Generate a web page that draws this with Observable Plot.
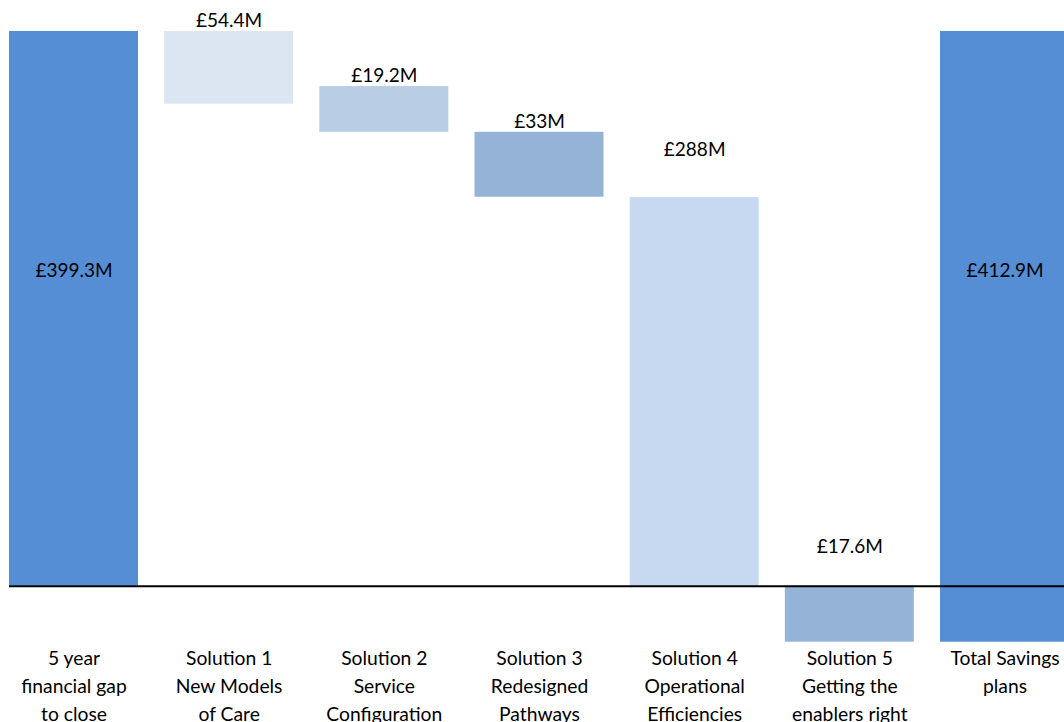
<!DOCTYPE html>
<html><head><meta charset="utf-8">
<script src="https://cdn.jsdelivr.net/npm/d3@7"></script>
<script src="https://cdn.jsdelivr.net/npm/@observablehq/plot@0.6"></script>
<style>html,body{margin:0;padding:0;background:#fff;overflow:hidden;}</style>
</head><body><div id="chart"></div>
<script>
const categories = ["gap","s1","s2","s3","s4","s5","total"];
const categoryLabels = [
  "5 year\nfinancial gap\nto close",
  "Solution 1\nNew Models\nof Care",
  "Solution 2\nService\nConfiguration",
  "Solution 3\nRedesigned\nPathways",
  "Solution 4\nOperational\nEfficiencies",
  "Solution 5\nGetting the\nenablers right",
  "Total Savings\nplans"
];
const barStart = [0, 400, 360.3, 327.3, 280.2, 0, -40.4];
const barEnd   = [400, 347.5, 327.3, 280.5, 0, -40.4, 400];
const valueLabels = ["£399.3M","£54.4M","£19.2M","£33M","£288M","£17.6M","£412.9M"];
const labelAt = [227.6, 407.4, 368.2, 335, 314.8, 28.6, 227.6];
const barColors = ["#558ED5","#DCE6F2","#B9CDE5","#95B3D7","#C6D9F1","#95B3D7","#558ED5"];

const data = categories.map((c, i) => ({
  cat: c, label: categoryLabels[i], start: barStart[i], end: barEnd[i],
  value: valueLabels[i], at: labelAt[i], color: barColors[i]
}));

const font = "Lato, 'Open Sans', sans-serif";
const chart = Plot.plot({
  width: 1072, height: 722,
  marginLeft: 9, marginRight: 3, marginTop: 31, marginBottom: 80.3,
  style: {maxWidth: "none", background: "#fff", overflow: "visible"},
  x: {type: "band", domain: categories, paddingInner: 0.1687, paddingOuter: 0, round: false, axis: null},
  y: {domain: [-40.4, 400], axis: null},
  color: {type: "identity"},
  marks: [
    Plot.barY(data, {x: "cat", y1: "start", y2: "end", fill: "color"}),
    Plot.ruleY([0], {stroke: "#000", strokeWidth: 2}),
    Plot.text(data, {x: "cat", y: "at", text: "value", fontFamily: font, fontSize: 19, fill: "#000"}),
    Plot.text(data, {x: "cat", text: "label", frameAnchor: "bottom", lineAnchor: "top", dy: 3.4,
      lineHeight: 1.45, fontFamily: font, fontSize: 19.3, fill: "#000"})
  ]
});
document.getElementById("chart").appendChild(chart);
</script>
</body></html>
